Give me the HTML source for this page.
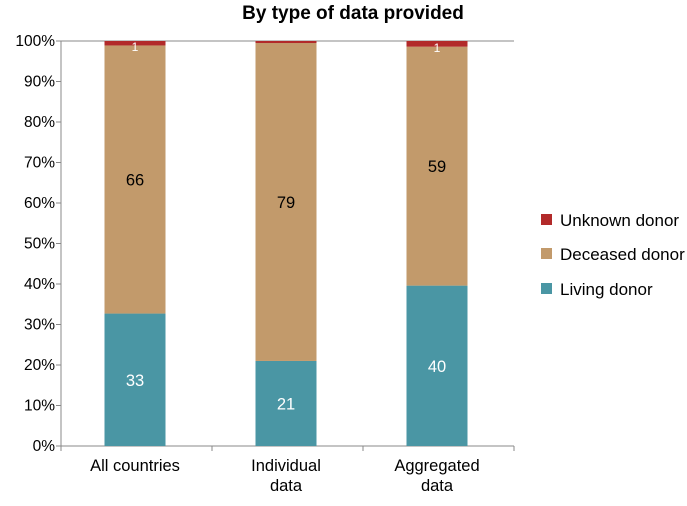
<!DOCTYPE html>
<html><head><meta charset="utf-8"><style>
body{margin:0;background:#fff;font-family:"Liberation Sans",sans-serif}
svg text{font-family:"Liberation Sans",sans-serif}
</style></head><body>
<svg width="687" height="501">
<text x="353" y="19" text-anchor="middle" font-size="19" font-weight="bold" fill="#000">By type of data provided</text>
<g id="axes"></g><g id="bars"></g><g id="legend"></g>
</svg>
<script>
const categories=[["All countries"],["Individual","data"],["Aggregated","data"]];
const living=[32.7,21,39.6];
const deceased=[66.2,78.5,59];
const unknown=[1.1,0.5,1.4];
const livingLabels=["33","21","40"];
const deceasedLabels=["66","79","59"];
const unknownLabels=["1","","1"];
const yTicks=[0,10,20,30,40,50,60,70,80,90,100];
const NS="http://www.w3.org/2000/svg";
const x0=61,y0=446,y1=41,step=151,bw=61;
const y=v=>y0-(v/100)*(y0-y1);
const cx=i=>x0+74+i*step;
function mk(p,t,a){const e=document.createElementNS(NS,t);for(const k in a)e.setAttribute(k,a[k]);p.appendChild(e);return e;}
const ax=document.getElementById('axes');
yTicks.forEach(t=>{const l=mk(ax,'line',{x1:x0-5,x2:x0,y1:y(t),y2:y(t),stroke:'#888'});

const tx=mk(ax,'text',{x:x0-6,y:y(t)+5,'text-anchor':'end','font-size':15.5,fill:'#000'});tx.textContent=t+'%';
});
const ya=mk(ax,'line',{x1:x0,x2:x0,y1:y1,y2:y0,stroke:'#888'});

const xa=mk(ax,'line',{x1:x0,x2:x0+453,y1:y0,y2:y0,stroke:'#888'});

const tl=mk(ax,'line',{x1:x0,x2:x0+453,y1:y1,y2:y1,stroke:'#888'});

for(let i=0;i<=categories.length;i++){const l=mk(ax,'line',{x1:x0+i*step,x2:x0+i*step,y1:y0,y2:y0+5,stroke:'#888'});
}
const bars=document.getElementById('bars');
const series=[[living,'#4a96a4',livingLabels,'#fff','living'],[deceased,'#c29a6b',deceasedLabels,'#000','deceased'],[unknown,'#b22a2a',unknownLabels,'#fff','unknown']];
categories.forEach((c,i)=>{let base=0;
series.forEach(s=>{const v=s[0][i];const r=mk(bars,'rect',{x:cx(i)-bw/2,y:y(base+v),width:bw,height:y(base)-y(base+v),fill:s[1]});

if(s[2][i]){const ty=s[4]=='unknown'?y(base+v/2)+8:y(base+v/2)+6;const t=mk(bars,'text',{x:cx(i),y:ty,'text-anchor':'middle','font-size':s[4]=='unknown'?12:16.5,fill:s[3]});t.textContent=s[2][i];
}
base+=v;});
c.forEach((ln,j)=>{const t=mk(ax,'text',{x:cx(i),y:y0+25+j*20,'text-anchor':'middle','font-size':16.5,fill:'#000'});t.textContent=ln;
});});
const lg=document.getElementById('legend');
[['Unknown donor','#b22a2a',220],['Deceased donor','#c29a6b',254],['Living donor','#4a96a4',289]].forEach(e=>{
const r=mk(lg,'rect',{x:541,y:e[2]-6,width:11,height:11,fill:e[1]});
const t=mk(lg,'text',{x:560,y:e[2]+6,'font-size':17,fill:'#000'});t.textContent=e[0];});
</script>
</body></html>
